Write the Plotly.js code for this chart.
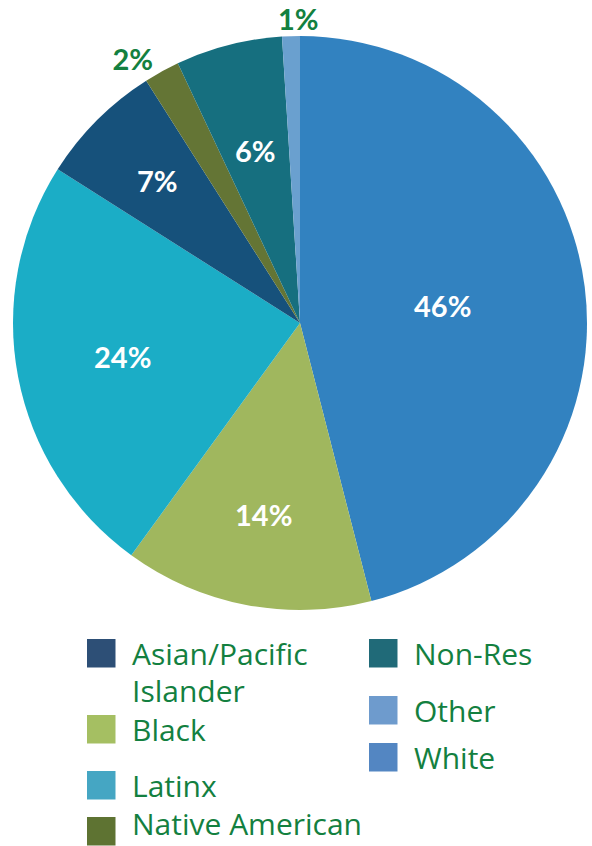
<!DOCTYPE html>
<html>
<head>
<meta charset="utf-8">
<script src="https://cdn.plot.ly/plotly-3.0.1.min.js"></script>
<style>
html,body{margin:0;padding:0;background:#fff;}
#chart{width:592px;height:846px;}
</style>
</head>
<body>
<div id="chart"></div>
<script>
// Data (clockwise from 12 o'clock)
var categories = ["White", "Black", "Latinx", "Asian/Pacific Islander", "Native American", "Non-Res", "Other"];
var shares = [46, 14, 24, 7, 2, 6, 1];
var sliceColors = ["#3282c0", "#a0b75e", "#1badc6", "#16517b", "#647535", "#166f7f", "#6aa0cf"];

// Label styling per slice: radial placement (fraction of radius)
var labelRadius = [0.50, 0.68, 0.63, 0.70, 1.08, 0.62, 1.06];

// Legend (two columns, as in the reference)
var legendLabels = ["Asian/Pacific\nIslander", "Black", "Latinx", "Native American", "Non-Res", "Other", "White"];
var legendColors = ["#2d4f76", "#a5bf62", "#45a6c3", "#5e7332", "#206a78", "#6e9bcd", "#5386c2"];
var legendColumn = [0, 0, 0, 0, 1, 1, 1];
var legendRowTop = [639, 715, 771, 817, 639, 696, 743];

var W = 592, H = 846;
var cx = 300, cy = 323, R = 287;
var textColor = "#138040";
var font = "Lato, 'Open Sans', sans-serif";
var legendFont = "'Open Sans', Lato, sans-serif";
var legendSize = 30;

// the 2% slice label is placed by Plotly outside the pie; others are placed along each slice's bisector
var textPositions = shares.map(function(v){ return v === 2 ? "outside" : "none"; });

var trace = {
  type: "pie",
  labels: categories,
  values: shares,
  sort: false,
  direction: "clockwise",
  rotation: 0,
  marker: {colors: sliceColors, line: {width: 0}},
  texttemplate: "%{value}%",
  textinfo: "text",
  textposition: textPositions,
  outsidetextfont: {color: textColor, size: 29, family: font, weight: 700},
  hoverinfo: "label+percent",
  showlegend: false,
  domain: {x: [(cx - R) / W, (cx + R) / W], y: [1 - (cy + R) / H, 1 - (cy - R) / H]}
};

var shapes = [], annotations = [];

// slice labels
var total = shares.reduce(function(a, b){ return a + b; }, 0);
var cum = 0;
for (var k = 0; k < shares.length; k++) {
  var mid = (cum + shares[k] / 2) / total * 2 * Math.PI;
  cum += shares[k];
  if (textPositions[k] !== "none") continue;
  var rr = labelRadius[k] * R;
  var px = cx + rr * Math.sin(mid);
  var py = cy - rr * Math.cos(mid);
  var outside = labelRadius[k] > 1;
  annotations.push({
    xref: "paper", yref: "paper",
    x: px / W, y: 1 - py / H,
    xanchor: "center", yanchor: "middle",
    xshift: outside ? 8 : 0,
    text: shares[k] + "%", showarrow: false,
    font: {family: font, size: 29, weight: 700, color: outside ? textColor : "#ffffff"}
  });
}

// legend
var colX = [87, 369];
var sq = 28.5;
var lineGap = 37.5;
var boxHalf = legendSize * 0.69;
for (var i = 0; i < legendLabels.length; i++) {
  var x0 = colX[legendColumn[i]];
  var y0 = legendRowTop[i];
  shapes.push({
    type: "rect", xref: "paper", yref: "paper",
    x0: x0 / W, x1: (x0 + sq) / W,
    y0: 1 - (y0 + sq) / H, y1: 1 - y0 / H,
    fillcolor: legendColors[i], line: {width: 0}
  });
  var lines = legendLabels[i].split("\n");
  for (var j = 0; j < lines.length; j++) {
    var yc = y0 + sq / 2 + j * lineGap;
    var atBottom = yc + boxHalf > H;
    annotations.push({
      xref: "paper", yref: "paper",
      x: (x0 + 43) / W, y: atBottom ? 0 : 1 - yc / H,
      xanchor: "left", yanchor: atBottom ? "bottom" : "middle", align: "left",
      text: lines[j], showarrow: false,
      font: {family: legendFont, size: legendSize, color: textColor}
    });
  }
}

var layout = {
  width: W, height: H,
  margin: {l: 0, r: 0, t: 0, b: 0},
  paper_bgcolor: "#ffffff",
  showlegend: false,
  shapes: shapes,
  annotations: annotations
};

Plotly.newPlot("chart", [trace], layout, {displayModeBar: false, staticPlot: true});
</script>
</body>
</html>
